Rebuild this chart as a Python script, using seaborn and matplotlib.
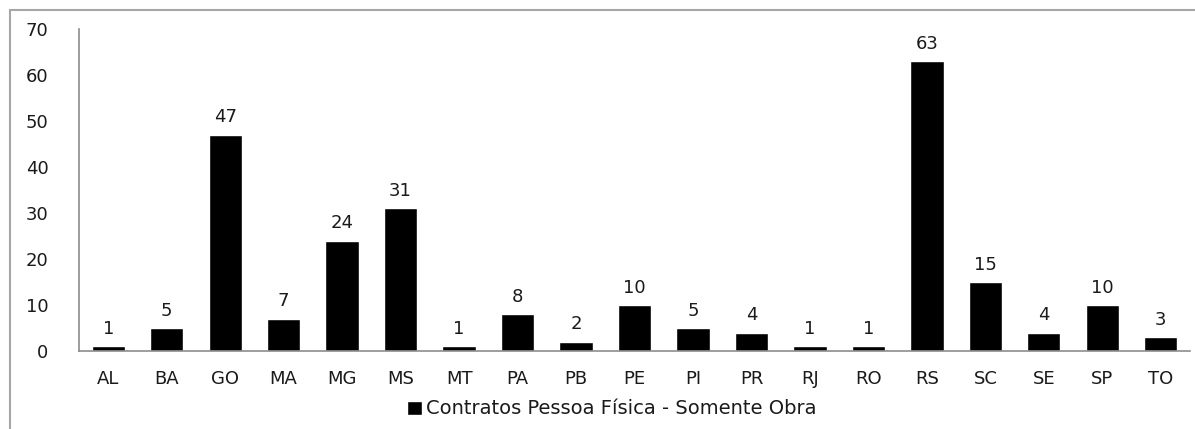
import pandas as pd
import matplotlib.pyplot as plt
import seaborn as sns
from matplotlib.patches import Rectangle

# Dados do gráfico
estados = ['AL', 'BA', 'GO', 'MA', 'MG', 'MS', 'MT', 'PA', 'PB', 'PE',
           'PI', 'PR', 'RJ', 'RO', 'RS', 'SC', 'SE', 'SP', 'TO']
contratos = [1, 5, 47, 7, 24, 31, 1, 8, 2, 10, 5, 4, 1, 1, 63, 15, 4, 10, 3]
serie = 'Contratos Pessoa Física - Somente Obra'

sns.set_theme(style="white")
plt.rcParams['font.family'] = ['DejaVu Sans']

df = pd.DataFrame({'Estado': estados, 'Contratos': contratos})

fig = plt.figure(figsize=(11.95, 4.29), dpi=100)
ax = fig.add_axes([79 / 1195, 1 - 351 / 429, (1190 - 79) / 1195, (351 - 29) / 429])

sns.barplot(data=df, x='Estado', y='Contratos', color='black', width=0.57,
            saturation=1, ax=ax, label=serie)
ax.bar_label(ax.containers[0], padding=6, fontsize=13, color='#1a1a1a')

ax.set_ylim(0, 70)
ax.set_yticks(range(0, 71, 10))
ax.set_xlim(-0.5, len(estados) - 0.5)
ax.set_xlabel('')
ax.set_ylabel('')
ax.tick_params(axis='both', length=0, labelsize=13, colors='#1a1a1a')
ax.tick_params(axis='x', pad=14)
ax.tick_params(axis='y', pad=22)
for s in ['top', 'right']:
    ax.spines[s].set_visible(False)
for s in ['left', 'bottom']:
    ax.spines[s].set_color('#8c8c8c')
    ax.spines[s].set_linewidth(1.2)

leg = ax.legend(loc='center', bbox_to_anchor=(0.512, 1 - 409 / 429), bbox_transform=fig.transFigure,
                frameon=False, fontsize=14, handlelength=0.75, handleheight=0.75, handletextpad=0.2)
for t in leg.get_texts():
    t.set_color('#1a1a1a')

# moldura externa
fig.patches.append(Rectangle((10 / 1195, -0.1), 1.2, 1 - 10 / 429 + 0.1, transform=fig.transFigure,
                             fill=False, edgecolor='#a6a6a6', linewidth=1.5))

fig.savefig('out.png', dpi=100, facecolor='white')
